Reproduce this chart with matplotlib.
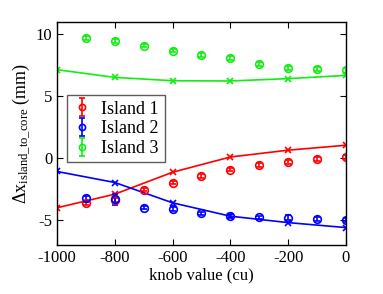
import matplotlib.pyplot as plt
import numpy as np

plt.rcParams['font.family'] = 'Liberation Serif'
plt.rcParams['mathtext.fontset'] = 'custom'
plt.rcParams['mathtext.rm'] = 'Liberation Serif'
plt.rcParams['mathtext.it'] = 'Liberation Serif:italic'
plt.rcParams['axes.unicode_minus'] = False

# measured points (circles with error bars)
knob = [-900, -800, -700, -600, -500, -400, -300, -200, -100, 0]
island1 = [-3.65, -3.39, -2.53, -1.96, -1.43, -0.91, -0.56, -0.32, -0.08, 0.1]
island2 = [-3.25, -3.3, -3.98, -4.1, -4.46, -4.68, -4.78, -4.8, -4.92, -5.0]
island3 = [9.73, 9.46, 9.1, 8.7, 8.36, 8.09, 7.63, 7.28, 7.23, 7.1]
err1 = [0.15, 0.15, 0.15, 0.15, 0.15, 0.15, 0.15, 0.15, 0.15, 0.15]
err2 = [0.2, 0.45, 0.15, 0.2, 0.15, 0.15, 0.15, 0.2, 0.15, 0.15]
err3 = [0.15, 0.15, 0.15, 0.15, 0.15, 0.15, 0.15, 0.15, 0.15, 0.2]

# simulation (lines with x markers)
knob_sim = [-1000, -800, -600, -400, -200, 0]
sim1 = [-4.0, -2.9, -1.13, 0.1, 0.65, 1.05]
sim2 = [-1.07, -1.96, -3.6, -4.68, -5.2, -5.6]
sim3 = [7.15, 6.53, 6.26, 6.24, 6.43, 6.69]

fig = plt.figure(figsize=(3.83, 2.94), dpi=100)
ax = fig.add_axes([0.149, 0.167, 0.754, 0.758])

colors = ['#ff0000', '#0000ff', '#11ee11']
meas = [island1, island2, island3]
errs = [err1, err2, err3]
sims = [sim1, sim2, sim3]
names = ['Island 1', 'Island 2', 'Island 3']

for c, y, e, s, n in zip(colors, meas, errs, sims, names):
    ax.errorbar(knob, y, yerr=e, fmt='o', color=c, mfc='none', ms=5.5,
                mew=1.2, elinewidth=1.2, capsize=2.5, label=n)
    ax.plot(knob_sim, s, '-x', color=c, lw=1.2, ms=4.5, mew=1.2)

ax.set_xlim(-1000, 0)
ax.set_ylim(-7, 11)
ax.set_xticks([-1000, -800, -600, -400, -200, 0])
ax.set_yticks([-5, 0, 5, 10])
ax.tick_params(direction='in', top=True, right=True, labelsize=12, length=4)
for sp in ax.spines.values():
    sp.set_linewidth(1.0)
ax.set_xlabel('knob value (cu)', fontsize=12, labelpad=1)
ax.set_ylabel(r'$\Delta$x$_{\rm island\_to\_core}$ (mm)', fontsize=13, labelpad=2)

leg = ax.legend(loc='upper left', bbox_to_anchor=(0.035, 0.672), fontsize=13,
                frameon=True, fancybox=False, edgecolor='#333333',
                handlelength=1.0, handletextpad=0.6, borderpad=0.3,
                labelspacing=0.15, borderaxespad=0, markerscale=0.8)
leg.get_frame().set_linewidth(1.0)

fig.savefig('out.png', dpi=100)
